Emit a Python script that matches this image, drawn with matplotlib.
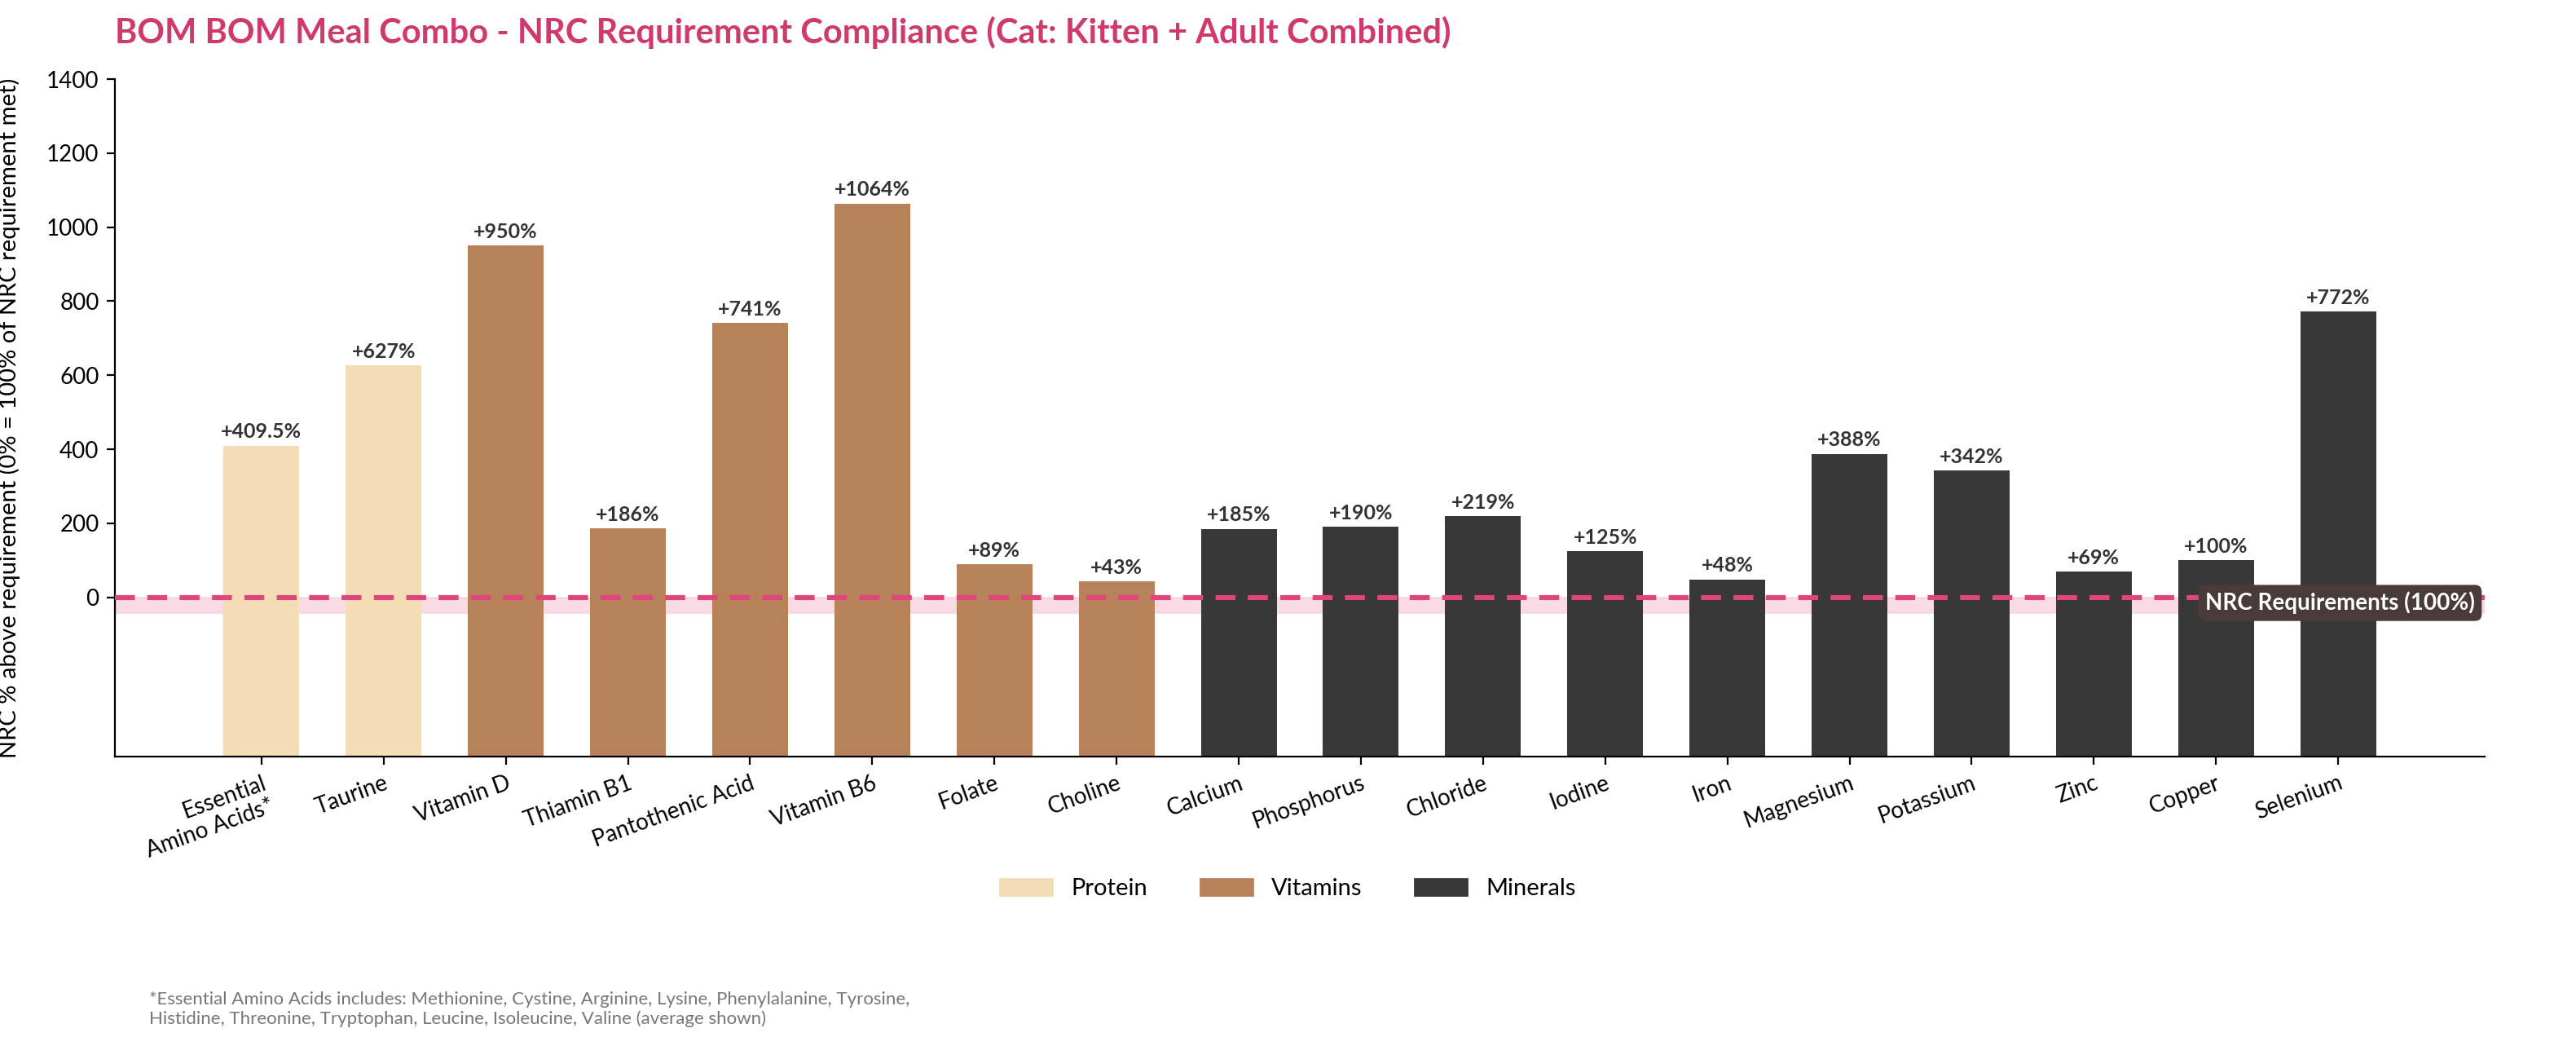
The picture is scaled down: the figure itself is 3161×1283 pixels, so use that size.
import matplotlib
matplotlib.use("Agg")
import matplotlib.pyplot as plt
from matplotlib.patches import Patch

plt.rcParams['font.family'] = ['Lato', 'DejaVu Sans']

categories = ["Essential\nAmino Acids*", "Taurine", "Vitamin D", "Thiamin B1", "Pantothenic Acid",
              "Vitamin B6", "Folate", "Choline", "Calcium", "Phosphorus", "Chloride", "Iodine",
              "Iron", "Magnesium", "Potassium", "Zinc", "Copper", "Selenium"]
values = [409.5, 627, 950, 186, 741, 1064, 89, 43, 185, 190, 219, 125, 48, 388, 342, 69, 100, 772]
labels = ["+409.5%", "+627%", "+950%", "+186%", "+741%", "+1064%", "+89%", "+43%", "+185%",
          "+190%", "+219%", "+125%", "+48%", "+388%", "+342%", "+69%", "+100%", "+772%"]
groups = ["Protein"]*2 + ["Vitamins"]*6 + ["Minerals"]*10
colors = {"Protein": "#F2DDB6", "Vitamins": "#B7815A", "Minerals": "#383838"}

bottom = -430
fig = plt.figure(figsize=(15.805, 6.415), dpi=200)
ax = fig.add_axes([141/3161, 1-928/1283, (3049-141)/3161, (928-97)/1283])

x = list(range(len(categories)))
ax.axhspan(-40, 0, color="#F7D3DF", alpha=0.8, zorder=0)
ax.bar(x, [v - bottom for v in values], bottom=bottom, width=0.62,
       color=[colors[g] for g in groups], zorder=2)
for xi, v, l in zip(x, values, labels):
    ax.text(xi, v + 12, l, ha="center", va="bottom", fontsize=9, fontweight="bold", color="#333333")
ax.axhline(0, color="#E0457B", lw=2.2, ls=(0, (4, 2.5)), zorder=3)
ax.text(18.12, -15, "NRC Requirements (100%)", ha="right", va="center", fontsize=10,
        fontweight="bold", color="white", zorder=5,
        bbox=dict(boxstyle="round,pad=0.3,rounding_size=0.3", fc="#4A3B3B", ec="none"))

ax.set_xlim(-1.2, 18.2)
ax.set_ylim(bottom, 1400)
ax.set_yticks(range(0, 1401, 200))
ax.set_xticks(x)
ax.set_xticklabels(categories, rotation=20, ha="right", rotation_mode="anchor", fontsize=10)
ax.tick_params(axis="y", labelsize=10)
ax.spines["top"].set_visible(False)
ax.spines["right"].set_visible(False)
ax.set_ylabel("NRC % above requirement (0% = 100% of NRC requirement met)", fontsize=10.5, y=0.5)
ax.yaxis.set_label_coords(-0.04, 0.5)

fig.text(141/3161, 1-40/1283, "BOM BOM Meal Combo - NRC Requirement Compliance (Cat: Kitten + Adult Combined)",
         fontsize=15, fontweight="bold", color="#D03A6A", va="center")

handles = [Patch(color=colors[k], label=k) for k in ["Protein", "Vitamins", "Minerals"]]
fig.legend(handles=handles, loc="center", bbox_to_anchor=(0.5, 1-1090/1283), ncol=3,
           frameon=False, fontsize=10.5, handlelength=2.2, columnspacing=2.2)

fig.text(183/3161, 1-1238/1283,
         "*Essential Amino Acids includes: Methionine, Cystine, Arginine, Lysine, Phenylalanine, Tyrosine,\n"
         "Histidine, Threonine, Tryptophan, Leucine, Isoleucine, Valine (average shown)",
         fontsize=8, color="#777777", va="center")

fig.savefig("out.png", dpi=200)
